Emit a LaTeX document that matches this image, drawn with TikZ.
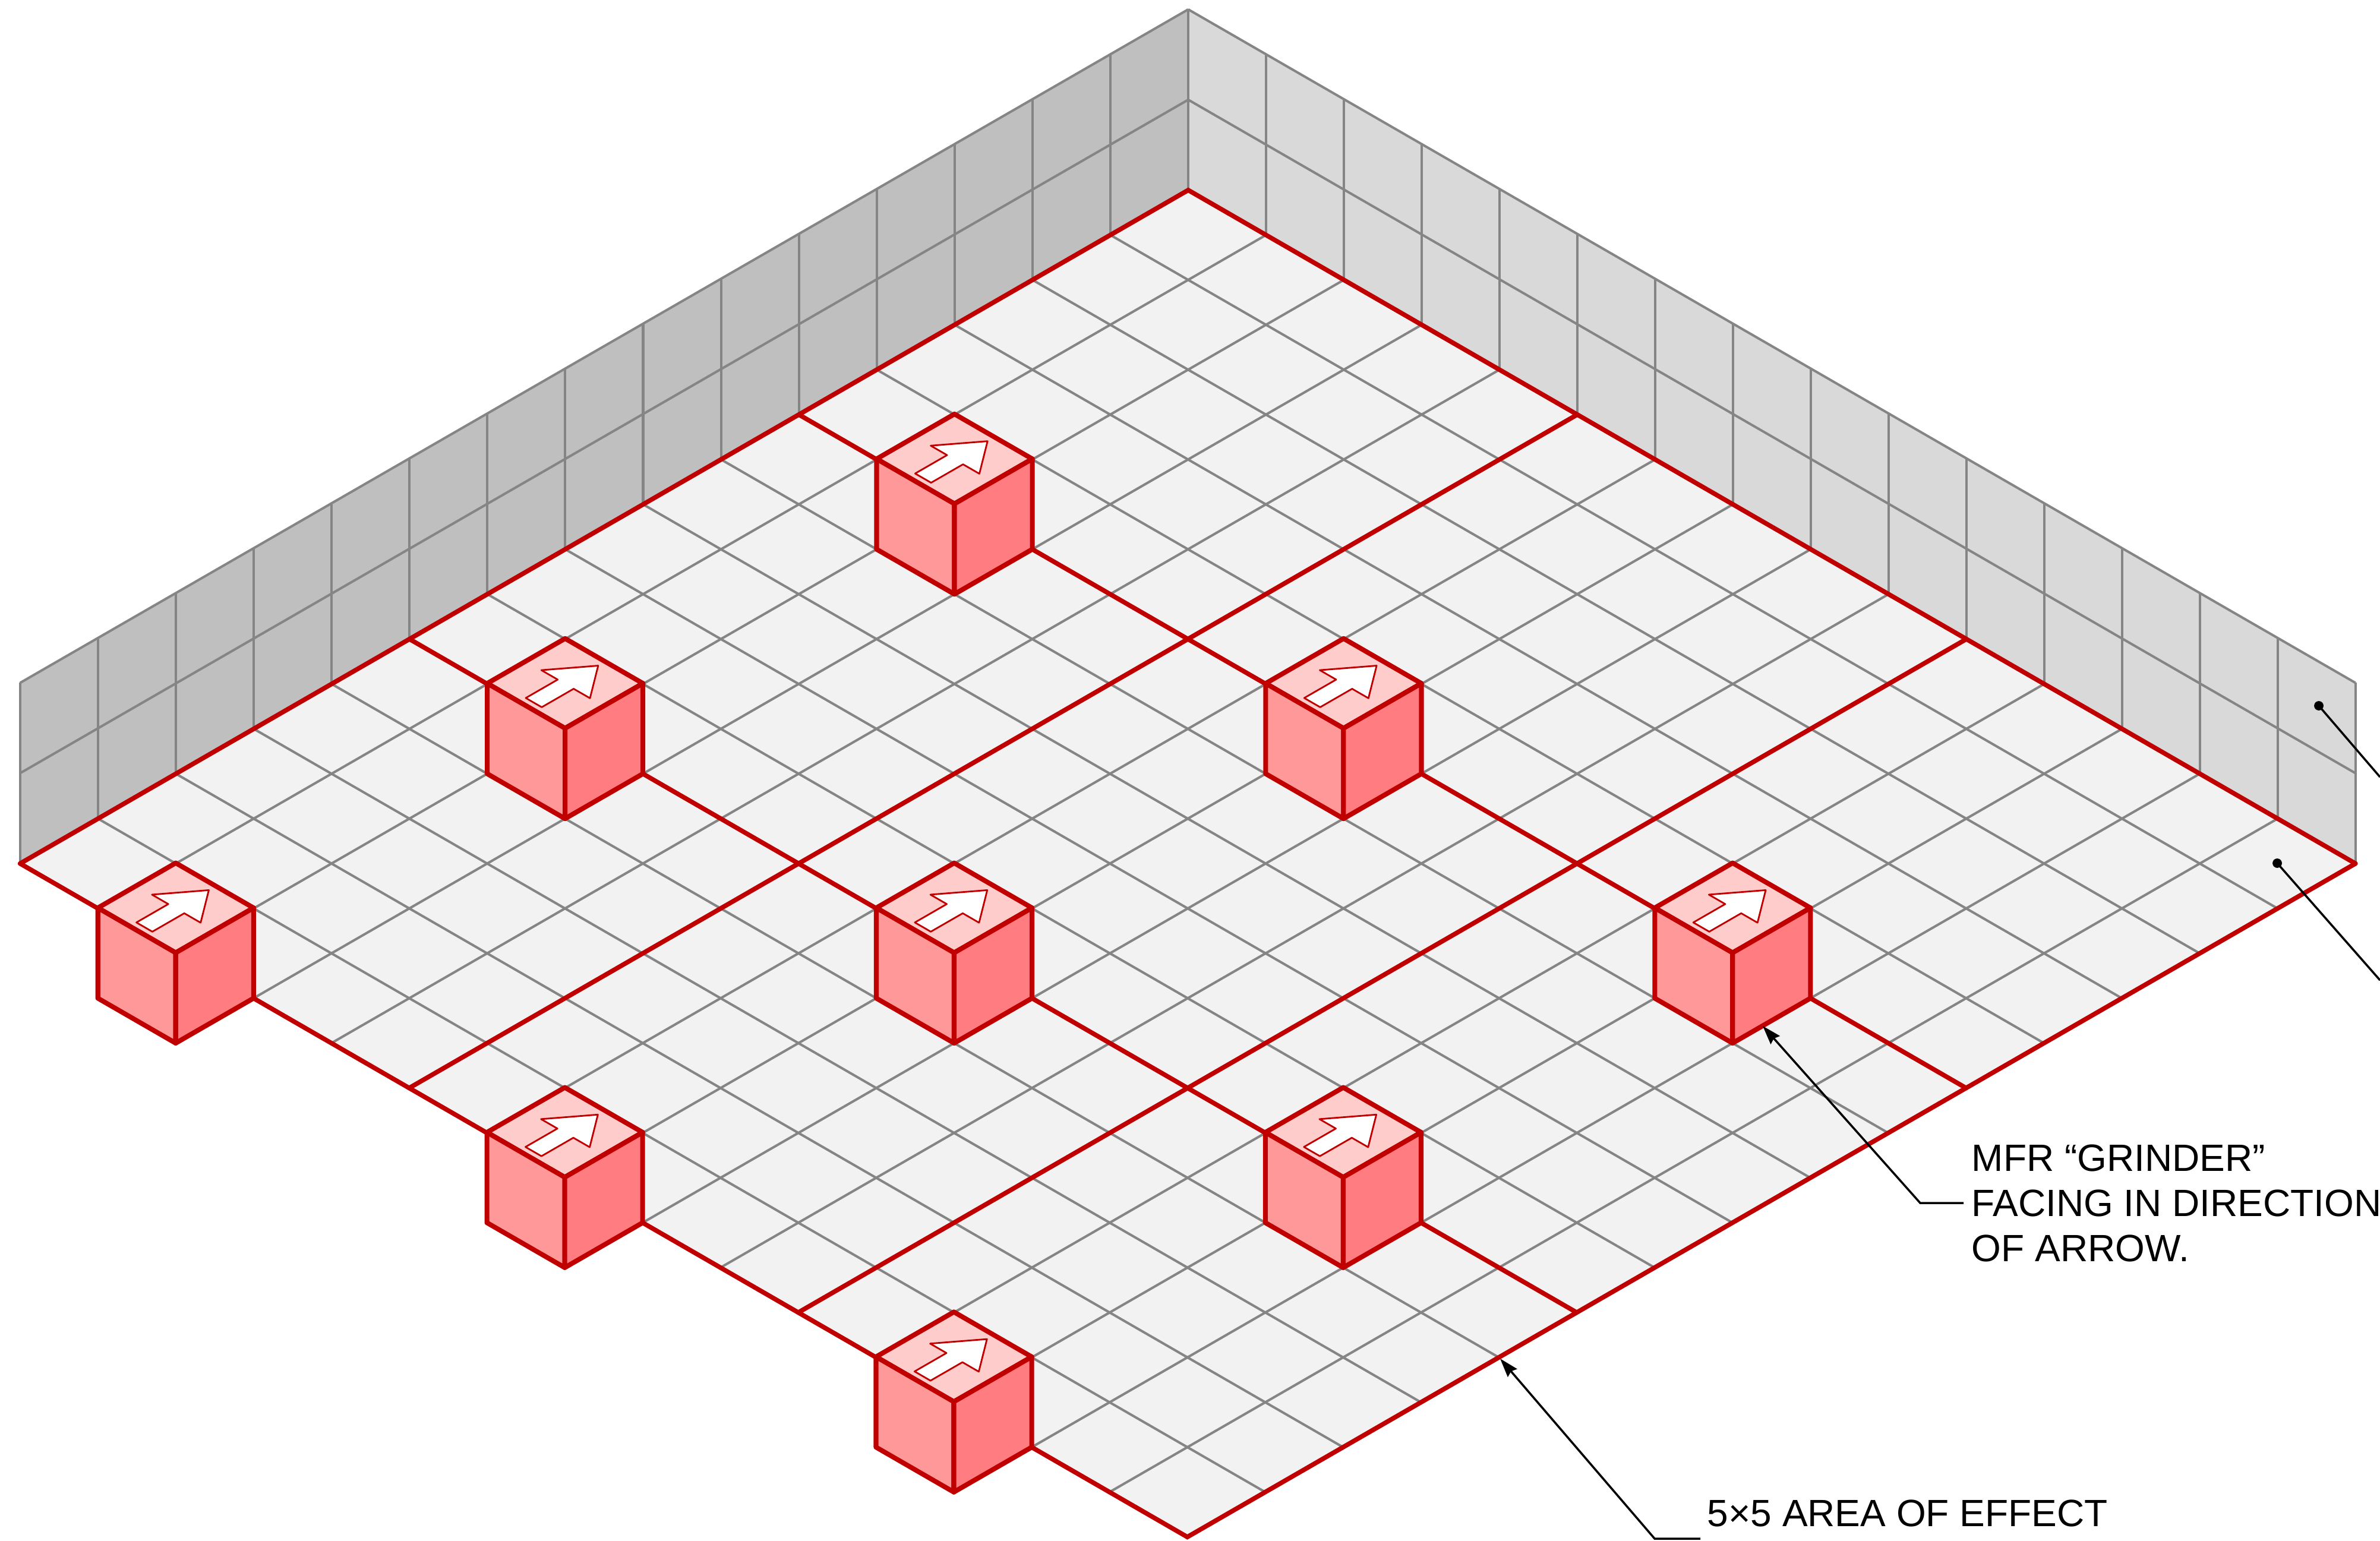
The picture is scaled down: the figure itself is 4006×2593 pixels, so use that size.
\documentclass[tikz,border=0pt]{standalone}
\usepackage{fontspec}
\setmainfont{Liberation Sans}
\usetikzlibrary{arrows.meta}
\definecolor{ink}{HTML}{000000}
\definecolor{floorgray}{HTML}{F2F2F2}
\definecolor{wallleft}{HTML}{BFBFBF}
\definecolor{wallright}{HTML}{D9D9D9}
\definecolor{gridgray}{HTML}{858585}
\definecolor{mfrred}{HTML}{C00000}
\definecolor{cubetop}{HTML}{FFCCCC}
\definecolor{cubeleft}{HTML}{FF9999}
\definecolor{cuberight}{HTML}{FF7C80}

\begin{document}
\begin{tikzpicture}[
  x=0.01cm,y=-0.01cm,
  >={Stealth[length=9pt,width=5.8pt,inset=1pt]},
  iso/.style={shift={(2000,320)},x={(1.309cm,-0.7553cm)},y={(-1.31cm,-0.7553cm)},z={(0cm,1.52cm)}},
  gridline/.style={draw=gridgray,line width=1.15pt},
  redline/.style={draw=mfrred,line width=2.2pt,line cap=round},
  cubeface/.style={draw=mfrred,line width=2.3pt,line join=round},
  leader/.style={draw=ink,line width=1pt},
  dot/.style={circle,fill=ink,inner sep=0pt,minimum size=4.5pt},
  lab/.style={font=\fontsize{18.2}{21.6}\selectfont,align=left,text=ink,inner sep=3.7pt}
]
\useasboundingbox (0,0) rectangle (4006,2593);
\begin{scope}[iso]
\fill[wallleft] (0,0,0) -- (0,15,0) -- (0,15,2) -- (0,0,2) -- cycle;
\fill[wallright] (0,0,0) -- (15,0,0) -- (15,0,2) -- (0,0,2) -- cycle;
\fill[floorgray] (0,0,0) -- (15,0,0) -- (15,15,0) -- (0,15,0) -- cycle;
\foreach \n in {0,...,15} {
  \draw[gridline] (0,\n,0) -- (0,\n,2);
  \draw[gridline] (\n,0,0) -- (\n,0,2);
}
\foreach \h in {1,2} {
  \draw[gridline] (0,0,\h) -- (0,15,\h);
  \draw[gridline] (0,0,\h) -- (15,0,\h);
}
\foreach \n in {1,...,14} {
  \draw[gridline] (\n,0,0) -- (\n,15,0);
  \draw[gridline] (0,\n,0) -- (15,\n,0);
}
\draw[redline] (0,15,0) -- (0,0,0) -- (15,0,0);
\draw[redline] (0,15,0) -- (15,15,0) -- (15,0,0);
\foreach \n in {5,10} {
  \draw[redline] (\n,0,0) -- (\n,15,0);
  \draw[redline] (0,\n,0) -- (15,\n,0);
}
\foreach \i in {2,7,12} {
  \foreach \j in {5,10,15} {
    \begin{scope}[shift={(\i,\j,0)}]
    \filldraw[cubeface,fill=cubetop] (0,0,1) -- (1,0,1) -- (1,1,1) -- (0,1,1) -- cycle;
    \filldraw[cubeface,fill=cubeleft] (0,1,1) -- (1,1,1) -- (1,1,0) -- (0,1,0) -- cycle;
    \filldraw[cubeface,fill=cuberight] (1,0,1) -- (1,1,1) -- (1,1,0) -- (1,0,0) -- cycle;
    \filldraw[draw=mfrred,fill=white,line width=0.8pt,line join=round]
      (.515,.09,1) -- (.825,.505,1) -- (.615,.505,1) -- (.615,.915,1)
      -- (.41,.915,1) -- (.41,.505,1) -- (.2,.505,1) -- cycle;
    \end{scope}
  }
}
\end{scope}
\node[lab,anchor=west] (grinderlab) at (3305,2025) {MFR “GRINDER”\\FACING IN DIRECTION\\OF ARROW.};
\node[lab,anchor=base west] (arealab) at (2860,2569) {5×5 AREA OF EFFECT};
\node[dot] (walldot) at (3903,1188) {};
\node[dot] (floordot) at (3833,1453) {};
\coordinate (grindertip) at (2967,1727);
\coordinate (grinderbend) at (3232,2025);
\coordinate (areatip) at (2525,2287);
\coordinate (areabend) at (2785,2590);
\coordinate (areaend) at (2862,2590);
\coordinate (wallend) at (4006,1308);
\coordinate (floorend) at (4006,1650);
\draw[leader,->] (grinderlab.west) -- (grinderbend) -- (grindertip);
\draw[leader,->] (areaend) -- (areabend) -- (areatip);
\draw[leader] (walldot.center) -- (wallend);
\draw[leader] (floordot.center) -- (floorend);
\end{tikzpicture}
\end{document}
